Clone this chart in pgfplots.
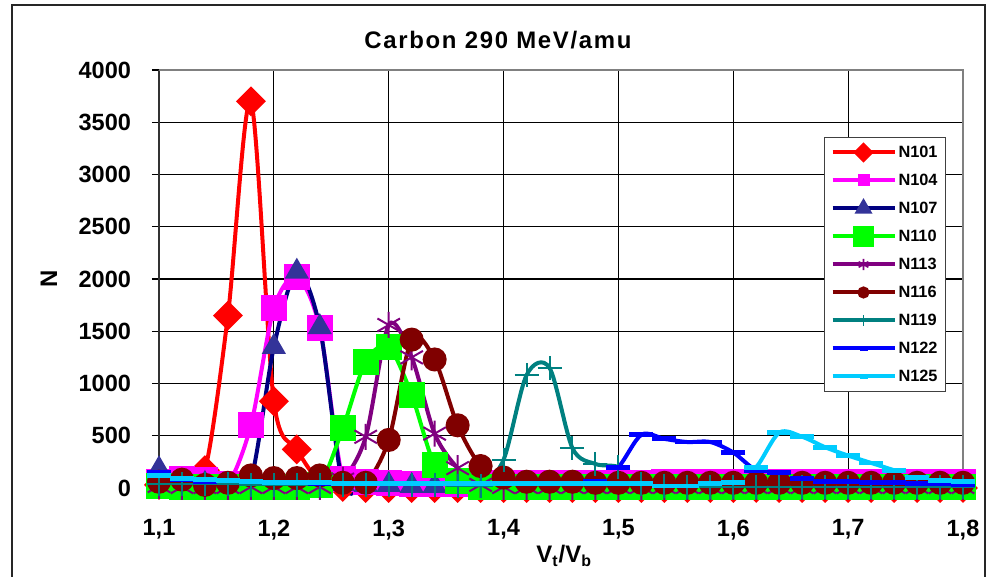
\documentclass[border=0pt]{standalone}
\usepackage{fontspec}
\setmainfont{Liberation Sans}
\usepackage{pgfplots}
\usepackage{pgfplotstable}
\pgfplotsset{compat=1.18}

\definecolor{cRed}{HTML}{FF0000}
\definecolor{cMag}{HTML}{FF00FF}
\definecolor{cNavy}{HTML}{000080}
\definecolor{cNavyMk}{HTML}{333399}
\definecolor{cLime}{HTML}{00FF00}
\definecolor{cPurple}{HTML}{800080}
\definecolor{cMaroon}{HTML}{800000}
\definecolor{cTeal}{HTML}{008080}
\definecolor{cBlue}{HTML}{0000FF}
\definecolor{cSky}{HTML}{00CCFF}

% counts per V_t/V_b bin, one column per detector
\pgfplotstableread{
x    N101 N104 N107 N110 N113 N116 N119 N122 N125
1.10 30   60   180  20   20   60   40   150  120
1.12 60   90   60   10   10   80   40   80   90
1.14 170  80   40   10   10   30   40   60   80
1.16 1650 40   30   10   10   50   40   70   70
1.18 3700 600  80   10   10   120  30   60   60
1.20 830  1720 1350 10   10   95   30   50   50
1.22 370  2020 2070 10   10   95   30   50   50
1.24 60   1530 1540 30   10   120  30   40   50
1.26 10   90   40   570  80   50   30   40   40
1.28 0    60   30   1210 490  50   30   40   40
1.30 0    50   30   1350 1560 460  30   40   40
1.32 0    40   20   890  1250 1420 30   40   40
1.34 0    40   20   220  520  1230 30   40   40
1.36 0    40   20   70   190  600  20   40   40
1.38 0    50   20   10   30   210  20   40   40
1.40 0    50   20   10   10   100  270  40   40
1.42 0    50   20   10   10   60   1080 40   40
1.44 0    50   20   10   10   60   1150 40   40
1.46 0    50   20   10   10   60   380  40   40
1.48 0    50   20   10   10   50   230  60   40
1.50 0    50   20   10   10   50   200  200  40
1.52 0    50   20   10   10   50   40   510  40
1.54 0    60   20   10   10   50   20   470  20
1.56 0    60   20   10   10   50   10   440  20
1.58 0    60   20   10   10   50   10   440  40
1.60 0    60   20   10   10   50   10   340  50
1.62 0    60   20   10   10   50   10   170  200
1.64 0    60   20   10   10   50   10   150  530
1.66 0    60   20   10   10   50   10   90   490
1.68 0    60   20   10   10   50   10   60   390
1.70 0    60   20   10   10   50   10   60   310
1.72 0    60   20   10   10   50   10   50   240
1.74 0    60   20   10   10   50   10   50   170
1.76 0    60   20   10   10   50   10   40   100
1.78 0    60   20   10   10   50   10   40   70
1.80 0    60   20   10   10   50   10   30   65
}\counts

\begin{document}
\begin{tikzpicture}
\useasboundingbox (-79.5bp,-44.5bp) rectangle (416bp,244bp);
\begin{axis}[
  at={(0,0)}, anchor=south west,
  scale only axis, width=402bp, height=209bp,
  xmin=1.1, xmax=1.8, ymin=0, ymax=4000,
  xtick={1.1,1.2,1.3,1.4,1.5,1.6,1.7,1.8},
  ytick={0,500,...,4000},
  axis x line*=bottom, axis y line*=left,
  axis line style={black!80,line width=1.1bp},
  tick align=outside, major tick length=3.5bp,
  tick style={black,line width=0.6bp},
  grid=major, major grid style={black,line width=0.55bp},
  clip=false,
  /pgf/number format/assume math mode=true,
  /pgf/number format/1000 sep={},
  ticklabel style={font=\bfseries\fontsize{11.8}{13}\selectfont},
  xticklabel style={yshift=-8.8bp,/pgf/number format/.cd,fixed,fixed zerofill,precision=1,use comma},
  yticklabel style={xshift=-7bp},
  title={Carbon 290 MeV/amu},
  title style={at={(axis description cs:0.4216,1.043)},anchor=center,
    font=\bfseries\fontsize{12}{14}\selectfont\addfontfeature{LetterSpace=7}},
  xlabel={V\textsubscript{t}/V\textsubscript{b}},
  xlabel style={at={(axis description cs:0.504,-0.163)},anchor=center,
    font=\bfseries\fontsize{12}{14}\selectfont},
  ylabel={N},
  ylabel style={at={(axis description cs:-0.137,0.5)},anchor=center,
    font=\bfseries\fontsize{12}{14}\selectfont},
  legend style={at={(axis description cs:0.827,0.84)},anchor=north west,
    draw=black!75,line width=0.6bp,fill=white,
    font=\bfseries\fontsize{8.2}{9}\selectfont,
    inner xsep=3bp,inner ysep=2bp,row sep=3bp,
    nodes={inner sep=1bp,text height=7bp,text depth=2bp}},
  legend cell align=left,
  legend image code/.code={\draw[#1,mark repeat=2,mark phase=2] plot coordinates {(0bp,0bp) (15.5bp,0bp) (31bp,0bp)};},
  every axis plot/.append style={line width=2bp,smooth},
]
\draw[black!50,line width=0.9bp] (rel axis cs:0,1) -- (rel axis cs:1,1) -- (rel axis cs:1,0);

\addlegendimage{cRed,line width=2bp,mark=square*,mark options={rotate=45,mark size=2.6bp}}
\addlegendentry{N101}
\addlegendimage{cMag,line width=2bp,mark=square*,mark options={mark size=2bp}}
\addlegendentry{N104}
\addlegendimage{cNavy,line width=2bp,mark=triangle*,mark options={mark size=3.2bp,fill=cNavyMk,draw=cNavyMk}}
\addlegendentry{N107}
\addlegendimage{cLime,line width=2bp,mark=square*,mark options={mark size=4.2bp}}
\addlegendentry{N110}
\addlegendimage{cPurple,line width=2bp,mark=asterisk,mark options={mark size=2.8bp,line width=0.8bp}}
\addlegendentry{N113}
\addlegendimage{cMaroon,line width=2bp,mark=*,mark options={mark size=2bp}}
\addlegendentry{N116}
\addlegendimage{cTeal,line width=2bp,mark=|,mark options={mark size=2.6bp,line width=0.8bp}}
\addlegendentry{N119}
\addlegendimage{cBlue,line width=2bp,mark=-,mark options={mark size=2bp,line width=2.6bp}}
\addlegendentry{N122}
\addlegendimage{cSky,line width=2bp,mark=-,mark options={mark size=2bp,line width=2.6bp}}
\addlegendentry{N125}

\addplot[forget plot,cRed,mark=square*,mark options={rotate=45,mark size=4.3bp}] table[x=x,y=N101] {\counts};
\addplot[forget plot,cMag,mark=square*,mark options={mark size=5.5bp}] table[x=x,y=N104] {\counts};
\addplot[forget plot,cNavy,mark=triangle*,mark options={mark size=5bp,fill=cNavyMk,draw=cNavyMk}] table[x=x,y=N107] {\counts};
\addplot[forget plot,cLime,mark=square*,mark options={mark size=5.5bp}] table[x=x,y=N110] {\counts};
\addplot[forget plot,cPurple,mark=asterisk,mark options={mark size=6.5bp,line width=1bp}] table[x=x,y=N113] {\counts};
\addplot[forget plot,cMaroon,mark=*,mark options={mark size=5bp}] table[x=x,y=N116] {\counts};
\addplot[forget plot,cTeal,mark=+,mark options={mark size=6bp,line width=1bp}] table[x=x,y=N119] {\counts};
\addplot[forget plot,cBlue,mark=-,mark options={mark size=6bp,line width=2.4bp}] table[x=x,y=N122] {\counts};
\addplot[forget plot,cSky,mark=-,mark options={mark size=6bp,line width=2.4bp}] table[x=x,y=N125] {\counts};
\end{axis}
\draw[black!85,line width=1bp] (-73.5bp,-44.5bp) -- (-73.5bp,241.5bp) -- (413bp,241.5bp) -- (413bp,-44.5bp);
\end{tikzpicture}
\end{document}
